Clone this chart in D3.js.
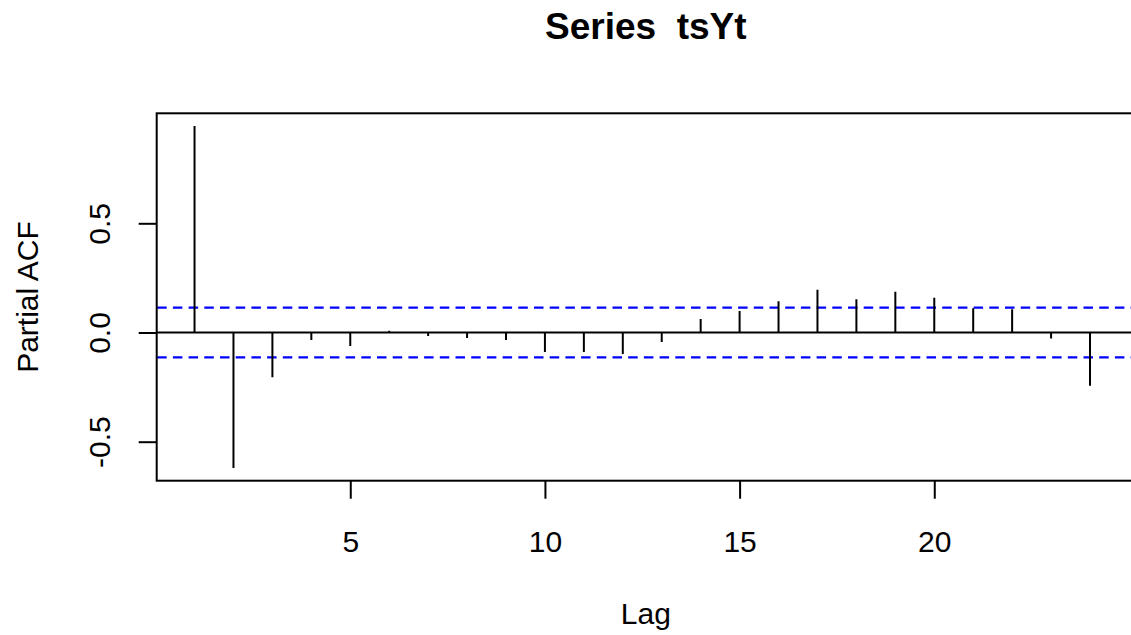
<!DOCTYPE html>
<html>
<head>
<meta charset="utf-8">
<script src="https://cdn.jsdelivr.net/npm/d3@7"></script>
<style>
  html, body { margin: 0; padding: 0; background: #fff; }
  svg { display: block; }
  text { font-family: "Liberation Sans", Arial, sans-serif; fill: #000; }
</style>
</head>
<body>
<svg id="chart" width="1131" height="635"></svg>
<script>
// Data
const lags = [1,2,3,4,5,6,7,8,9,10,11,12,13,14,15,16,17,18,19,20,21,22,23,24];
const pacfValues = [0.946,-0.620,-0.205,-0.034,-0.062,0.008,-0.016,-0.025,-0.034,-0.089,-0.089,-0.098,
                    -0.043,0.062,0.098,0.143,0.196,0.152,0.187,0.159,0.111,0.106,-0.027,-0.244];
const confLimit = 0.1136;
const xTicks = [5,10,15,20];
const yTicks = [-0.5,0.0,0.5];
const titleText = "Series  tsYt";
const xLabel = "Lag";
const yLabel = "Partial ACF";

const svg = d3.select("#chart");
const box = {left: 156.7, top: 113.3, right: 1135, bottom: 480.7};

const x = d3.scaleLinear().domain([0, 24]).range([155.6, 1090]);
const y = d3.scaleLinear().domain([-0.5, 0.5]).range([441.7, 223.3]);

// clip for plot region
svg.append("defs").append("clipPath").attr("id","plotclip")
  .append("rect").attr("x", box.left).attr("y", box.top)
  .attr("width", box.right - box.left).attr("height", box.bottom - box.top);

const plot = svg.append("g").attr("clip-path","url(#plotclip)");

// zero line
plot.append("line")
  .attr("x1", box.left).attr("x2", box.right)
  .attr("y1", y(0)).attr("y2", y(0))
  .attr("stroke","#000").attr("stroke-width",2);

// confidence lines
[confLimit, -confLimit].forEach(c => {
  plot.append("line")
    .attr("x1", box.left + 0.5).attr("x2", box.right)
    .attr("y1", y(c)).attr("y2", y(c))
    .attr("stroke","#0000ff").attr("stroke-width",2.2)
    .attr("stroke-dasharray","9.5,6.2");
});

// spikes
plot.selectAll("line.spike").data(lags).enter().append("line")
  .attr("class","spike")
  .attr("x1", d => x(d)).attr("x2", d => x(d))
  .attr("y1", y(0)).attr("y2", (d,i) => y(pacfValues[i]))
  .attr("stroke","#000").attr("stroke-width",2);

// box
svg.append("rect")
  .attr("x", box.left).attr("y", box.top)
  .attr("width", box.right - box.left).attr("height", box.bottom - box.top)
  .attr("fill","none").attr("stroke","#000").attr("stroke-width",2);

// x axis
const xAxis = d3.axisBottom(x).tickValues(xTicks).tickSize(18).tickPadding(32)
  .tickFormat(d => String(d));
const gx = svg.append("g").attr("transform", `translate(0,${box.bottom})`).call(xAxis);
gx.select(".domain").remove();
gx.selectAll(".tick line").attr("stroke","#000").attr("stroke-width",2);
gx.selectAll(".tick text").attr("font-size", 30).attr("fill","#000")
  .attr("font-family","Liberation Sans, Arial, sans-serif");

// y axis
const yAxis = d3.axisLeft(y).tickValues(yTicks).tickSize(18).tickPadding(0)
  .tickFormat(d => d.toFixed(1));
const gy = svg.append("g").attr("transform", `translate(${box.left},0)`).call(yAxis);
gy.select(".domain").remove();
gy.selectAll(".tick line").attr("stroke","#000").attr("stroke-width",2);
gy.selectAll(".tick text")
  .attr("font-size", 30).attr("fill","#000")
  .attr("font-family","Liberation Sans, Arial, sans-serif")
  .attr("x", null).attr("dy", null)
  .attr("text-anchor","middle")
  .attr("transform","translate(-46.7,0) rotate(-90)");

// titles
svg.append("text").attr("x", (box.left + box.right)/2).attr("y", 39)
  .attr("text-anchor","middle").attr("font-size", 37).attr("font-weight","bold")
  .style("white-space","pre").attr("xml:space","preserve")
  .text(titleText);

svg.append("text").attr("x", (box.left + box.right)/2).attr("y", 624)
  .attr("text-anchor","middle").attr("font-size", 30).text(xLabel);

svg.append("text")
  .attr("transform", `translate(37.5,${(box.top + box.bottom)/2}) rotate(-90)`)
  .attr("text-anchor","middle").attr("font-size", 30).text(yLabel);
</script>
</body>
</html>
